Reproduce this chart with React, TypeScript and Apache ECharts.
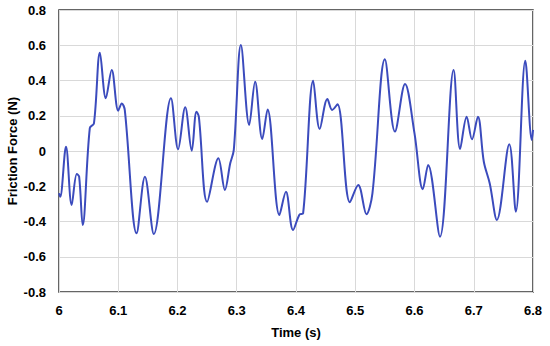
import React, { useEffect, useRef } from "react";
import * as echarts from "echarts";

const timeValues = [
  6.0, 6.002, 6.0118, 6.0214, 6.030, 6.034, 6.040, 6.052, 6.059, 6.069, 6.079,
  6.089, 6.100, 6.106, 6.111, 6.131, 6.145, 6.160, 6.189, 6.201, 6.213, 6.224,
  6.232, 6.236, 6.250, 6.269, 6.280, 6.289, 6.295, 6.307, 6.321, 6.331, 6.343,
  6.352, 6.372, 6.383, 6.395, 6.406, 6.412, 6.429, 6.440, 6.453, 6.461, 6.470,
  6.491, 6.505, 6.519, 6.529, 6.550, 6.567, 6.584, 6.600, 6.614, 6.623, 6.643,
  6.666, 6.677, 6.688, 6.697, 6.707, 6.717, 6.727, 6.739, 6.760, 6.771, 6.787,
  6.798, 6.8,
];

const frictionValues = [
  -0.24, -0.26, 0.024, -0.306, -0.13, -0.146, -0.42, 0.13, 0.157, 0.558, 0.299,
  0.46, 0.229, 0.27, 0.233, -0.467, -0.146, -0.471, 0.299, 0.01, 0.248, 0.002,
  0.223, 0.195, -0.288, -0.041, -0.221, -0.07, 0.006, 0.601, 0.148, 0.393, 0.068,
  0.236, -0.363, -0.231, -0.448, -0.36, -0.354, 0.399, 0.125, 0.295, 0.233, 0.265,
  -0.291, -0.193, -0.359, -0.24, 0.52, 0.11, 0.38, 0.1, -0.217, -0.079, -0.486,
  0.46, 0.011, 0.195, 0.066, 0.195, -0.061, -0.184, -0.391, 0.038, -0.344, 0.512,
  0.062, 0.12,
];

const xTicks = { min: 6, max: 6.8, interval: 0.1 };
const yTicks = { min: -0.8, max: 0.8, interval: 0.2 };

export default function App() {
  const ref = useRef<HTMLDivElement>(null);

  useEffect(() => {
    if (!ref.current) return;
    const chart = echarts.init(ref.current, null, { renderer: "svg" });
    const data = timeValues.map((t, i) => [t, frictionValues[i]]);
    const labelFont = {
      fontFamily: "Liberation Sans, Arial, sans-serif",
      fontWeight: "bold" as const,
      fontSize: 13,
      color: "#000",
    };
    chart.setOption({
      animation: false,
      grid: {
        left: 59,
        right: 17,
        top: 10,
        bottom: 54,
        containLabel: false,
        outerBoundsMode: "none",
        show: true,
        borderColor: "#333",
        borderWidth: 1.5,
        backgroundColor: "transparent",
      },
      xAxis: {
        type: "value",
        min: xTicks.min,
        max: xTicks.max,
        interval: xTicks.interval,
        name: "Time (s)",
        nameLocation: "middle",
        nameGap: 34,
        nameMoveOverlap: false,
        nameTextStyle: { ...labelFont },
        axisLine: { show: false },
        axisTick: { show: false },
        axisLabel: {
          ...labelFont,
          margin: 12,
          formatter: (v: number) => String(Math.round(v * 10) / 10),
        },
        splitLine: { show: true, lineStyle: { color: "#d9d9d9", width: 1 } },
      },
      yAxis: {
        type: "value",
        min: yTicks.min,
        max: yTicks.max,
        interval: yTicks.interval,
        name: "Friction Force (N)",
        nameLocation: "middle",
        nameGap: 40,
        nameMoveOverlap: false,
        nameTextStyle: { ...labelFont },
        axisLine: { show: false },
        axisTick: { show: false },
        axisLabel: {
          ...labelFont,
          margin: 13,
          formatter: (v: number) => {
            const r = Math.round(v * 10) / 10;
            return r === 0 ? "0" : r.toFixed(1);
          },
        },
        splitLine: { show: true, lineStyle: { color: "#d9d9d9", width: 1 } },
      },
      series: [
        {
          type: "line",
          data,
          smooth: 0.35,
          showSymbol: false,
          lineStyle: { color: "#3b4bbd", width: 2 },
        },
      ],
    });
    return () => chart.dispose();
  }, []);

  return (
    <div
      ref={ref}
      style={{ position: "fixed", left: 0, top: 0, width: 550, height: 346, background: "#fff" }}
    />
  );
}
